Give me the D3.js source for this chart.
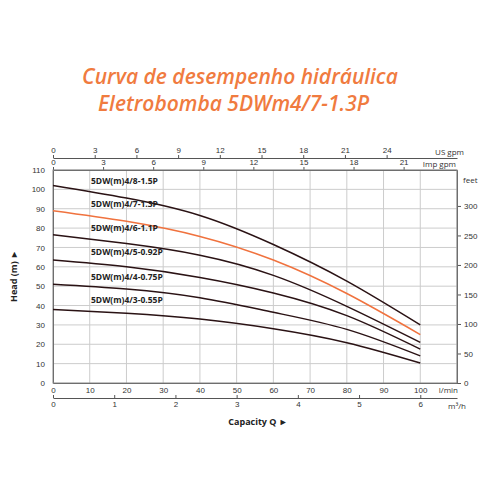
<!DOCTYPE html>
<html><head><meta charset="utf-8">
<script src="https://cdn.jsdelivr.net/npm/d3@7"></script>
<style>body{margin:0;background:#fff;font-family:"Open Sans",sans-serif}</style>
</head><body>
<script>
const flows = [0, 20, 40, 60, 80, 100];
const models = ['5DW(m)4/8-1.5P', '5DW(m)4/7-1.3P', '5DW(m)4/6-1.1P', '5DW(m)4/5-0.92P', '5DW(m)4/4-0.75P', '5DW(m)4/3-0.55P'];
const heads = [
  [102, 95.5, 86.5, 71.5, 52.6, 30],
  [89, 83.5, 75.7, 63.5, 46.2, 25],
  [76.5, 72, 66, 55.6, 39.6, 21],
  [63.5, 60, 54.5, 46.5, 34.8, 17.5],
  [51, 48.5, 44, 36.5, 27.7, 14],
  [38, 36, 33, 28, 20.8, 10.3]
];
const colors = ['#2a1214', '#f0723e', '#2a1214', '#2a1214', '#2a1214', '#2a1214'];
const labelHeads = [103, 91, 78.5, 66, 53, 41.5];

const width = 500, height = 500;
const x = d3.scaleLinear().domain([0, 110]).range([53, 457]);
const y = d3.scaleLinear().domain([0, 110]).range([383, 170]);

const svg = d3.select('body').append('svg').attr('width', width).attr('height', height);

// title
svg.append('text').attr('x', 240).attr('y', 84).attr('text-anchor', 'middle')
  .attr('font-size', 21).attr('font-style', 'italic').attr('font-weight', 600).attr('fill', '#f07b3f')
  .text('Curva de desempenho hidráulica');
svg.append('text').attr('x', 98).attr('y', 111)
  .attr('font-size', 21).attr('font-style', 'italic').attr('font-weight', 600).attr('fill', '#f07b3f')
  .text('Eletrobomba 5DWm4/7-1.3P');

// grid
svg.append('g').selectAll('line').data(d3.range(10, 111, 10)).join('line')
  .attr('x1', d => x(d)).attr('x2', d => x(d)).attr('y1', y(0)).attr('y2', y(110))
  .attr('stroke', '#ccc');
svg.append('g').selectAll('line').data(d3.range(10, 111, 10)).join('line')
  .attr('x1', x(0)).attr('x2', x(110)).attr('y1', d => y(d)).attr('y2', d => y(d))
  .attr('stroke', '#ccc');

function styleAxis(g) {
  g.selectAll('path,line').attr('stroke', '#555');
  g.selectAll('text').attr('fill', '#333').attr('font-size', 8);
}

// left head axis
svg.append('g').attr('transform', `translate(${x(0)},0)`)
  .call(d3.axisLeft(y).tickValues(d3.range(0, 111, 10)).tickSize(0).tickPadding(8))
  .call(styleAxis);
// right feet axis
const yFeet = d3.scaleLinear().domain([0, 110 / 0.3048]).range([383, 170]);
svg.append('g').attr('transform', `translate(${x(110)},0)`)
  .call(d3.axisRight(yFeet).tickValues(d3.range(0, 301, 50)).tickSize(4).tickSizeOuter(0))
  .call(styleAxis);
svg.append('text').attr('x', 463).attr('y', 183).attr('font-size', 8).attr('fill', '#333').text('feet');

// bottom l/min axis
svg.append('g').attr('transform', `translate(0,${y(0)})`)
  .call(d3.axisBottom(x).tickValues(d3.range(0, 101, 10)).tickSize(0).tickPadding(4))
  .call(styleAxis);
svg.append('text').attr('x', 458).attr('y', 393).attr('text-anchor', 'end').attr('font-size', 8).attr('fill', '#333').text('l/min');

// m3/h axis
const xM3 = d3.scaleLinear().domain([0, 6.6]).range([53, 457]);
svg.append('g').attr('transform', 'translate(0,398)')
  .call(d3.axisBottom(xM3).tickValues(d3.range(0, 7)).tickFormat(d3.format('d')).tickSize(-3).tickSizeOuter(0).tickPadding(3))
  .call(styleAxis);
svg.append('text').attr('x', 466).attr('y', 409).attr('text-anchor', 'end').attr('font-size', 8).attr('fill', '#333').text('m³/h');

// top US gpm / Imp gpm axes
const xUS = d3.scaleLinear().domain([0, 110 / 3.785]).range([53, 457]);
svg.append('g').attr('transform', 'translate(0,158)')
  .call(d3.axisTop(xUS).tickValues(d3.range(0, 25, 3)).tickSize(3).tickSizeOuter(0).tickPadding(2))
  .call(styleAxis);
svg.append('text').attr('x', 464).attr('y', 155).attr('text-anchor', 'end').attr('font-size', 8).attr('fill', '#333').text('US gpm');
const xImp = d3.scaleLinear().domain([0, 110 / 4.546]).range([53, 457]);
svg.append('g').attr('transform', `translate(0,${y(110)})`)
  .call(d3.axisTop(xImp).tickValues(d3.range(0, 22, 3)).tickSize(3).tickSizeOuter(0).tickPadding(2))
  .call(styleAxis);
svg.append('text').attr('x', 456).attr('y', 167).attr('text-anchor', 'end').attr('font-size', 8).attr('fill', '#333').text('Imp gpm');

// plot border
svg.append('rect').attr('x', x(0)).attr('y', y(110)).attr('width', x(110) - x(0)).attr('height', y(0) - y(110))
  .attr('fill', 'none').attr('stroke', '#888');

// curves
const line = d3.line().x((d, i) => x(flows[i])).y(d => y(d)).curve(d3.curveNatural);
svg.append('g').selectAll('path').data(heads).join('path')
  .attr('d', line).attr('fill', 'none').attr('stroke', (d, i) => colors[i]).attr('stroke-width', 1.5);

svg.append('g').selectAll('text').data(models).join('text')
  .attr('x', 91).attr('y', (d, i) => y(labelHeads[i]))
  .attr('font-size', 8.5).attr('font-weight', 'bold').attr('fill', '#222').text(d => d);

// axis titles
svg.append('text').attr('transform', 'translate(17,276) rotate(-90)').attr('text-anchor', 'middle')
  .attr('font-size', 9).attr('font-weight', 'bold').attr('fill', '#222').text('Head (m)  ►');
svg.append('text').attr('x', 258).attr('y', 425).attr('text-anchor', 'middle')
  .attr('font-size', 9).attr('font-weight', 'bold').attr('fill', '#222').text('Capacity Q  ►');
</script>
</body></html>
